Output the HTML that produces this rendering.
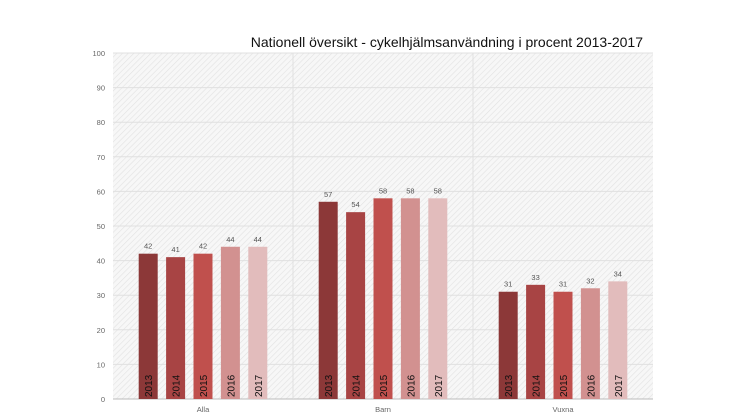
<!DOCTYPE html>
<html><head><meta charset="utf-8"><style>
body{margin:0;background:#fff;}
svg{display:block;font-family:"Liberation Sans",sans-serif;}
</style></head><body>
<svg width="746" height="419" viewBox="0 0 746 419">
<defs>
<pattern id="hatch" width="4" height="4" patternUnits="userSpaceOnUse" patternTransform="rotate(45)">
<rect width="4" height="4" fill="#f7f7f7"/>
<line x1="0" y1="0" x2="0" y2="4" stroke="#e2e2e2" stroke-width="1.2"/>
</pattern>
</defs>
<rect x="113" y="53" width="540" height="346" fill="url(#hatch)"/>
<text x="643" y="47" font-size="14" text-anchor="end" fill="#111">Nationell översikt - cykelhjälmsanvändning i procent 2013-2017</text>
<g id="grid"></g>
<g id="bars"></g>
</svg>
<script>
const categories = ["Alla","Barn","Vuxna"];
const years = ["2013","2014","2015","2016","2017"];
const s2013 = [42,57,31];
const s2014 = [41,54,33];
const s2015 = [42,58,31];
const s2016 = [44,58,32];
const s2017 = [44,58,34];
const yTicks = [0,10,20,30,40,50,60,70,80,90,100];
const series = [s2013,s2014,s2015,s2016,s2017];
const colors = ["#8c3838","#a84444","#c0504d","#d29190","#e2bcbc"];
const NS="http://www.w3.org/2000/svg";
const L=113,R=653,T=53,B=399;
const y=v=>B-(v/100)*(B-T);
const catW=(R-L)/categories.length;
const x=(ci,si)=>L+catW*ci+catW/2+(si-2)*27.4;
const grid=document.getElementById('grid'), bars=document.getElementById('bars');
function mk(tag,attrs,parent){const e=document.createElementNS(NS,tag);for(const k in attrs)e.setAttribute(k,attrs[k]);parent.appendChild(e);return e;}
yTicks.forEach(t=>{
  const ln=mk('line',{x1:L,x2:R,y1:y(t),y2:y(t),stroke:t===0?'#bbb':'#e0e0e0','stroke-width':1},grid);
  
  
  const tx=mk('text',{x:105,y:y(t)+3,'font-size':7.5,'text-anchor':'end',fill:'#666'},grid);
  tx.textContent=t;
  
  
});
for(let i=1;i<categories.length;i++){
  const ln=mk('line',{x1:L+catW*i,x2:L+catW*i,y1:T,y2:B,stroke:'#e0e0e0','stroke-width':1},grid);
  
  
}
categories.forEach((c,ci)=>{
  const tx=mk('text',{x:L+catW*ci+catW/2,y:412,'font-size':7.5,'text-anchor':'middle',fill:'#666'},bars);
  tx.textContent=c;
  
  
  series.forEach((s,si)=>{
    const v=s[ci], cx=x(ci,si), w=19;
    const r=mk('rect',{x:cx-w/2,y:y(v),width:w,height:B-y(v),fill:colors[si]},bars);
    
    
    const vl=mk('text',{x:cx,y:y(v)-5,'font-size':7.5,'text-anchor':'middle',fill:'#555'},bars);
    vl.textContent=v;
    
    
    const yl=mk('text',{x:0,y:0,'font-size':10,fill:'#111',transform:`translate(${cx+4},${B-2}) rotate(-90)`},bars);
    yl.textContent=years[si];
    
    
  });
});
</script>
</body></html>
